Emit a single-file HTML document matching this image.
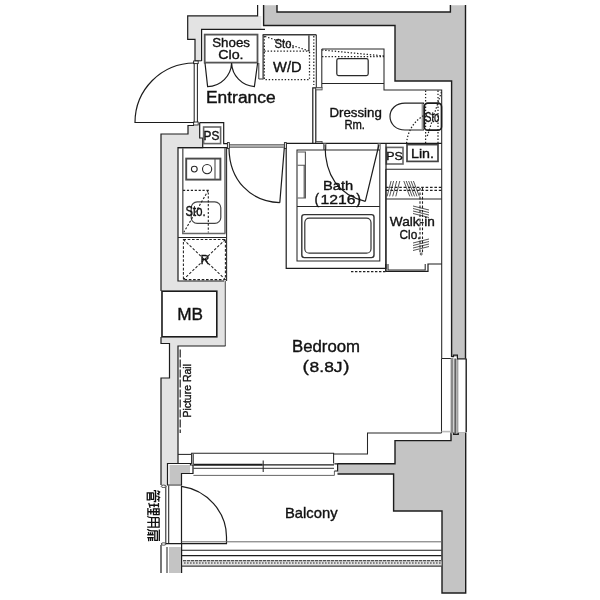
<!DOCTYPE html>
<html><head><meta charset="utf-8">
<style>
html,body{margin:0;padding:0;background:#fff;}
body{width:600px;height:600px;overflow:hidden;position:relative;font-family:"Liberation Sans",sans-serif;}
svg{position:absolute;left:0;top:0;display:block;filter:grayscale(1)}
text{font-family:"Liberation Sans",sans-serif;fill:#111;stroke:#111;stroke-width:0.36px;}
.k{stroke:#1c1c1c;stroke-width:1.2;fill:none}
.k2{stroke:#1c1c1c;stroke-width:1.4;fill:none}
.t{stroke:#262626;stroke-width:1.05;fill:none}
.g{stroke:#666;stroke-width:1.5;fill:none}
.g1{stroke:#555;stroke-width:1.15;fill:none}
.d{stroke:#222;stroke-width:1.25;fill:none;stroke-dasharray:1.4 1.8}
.lw{fill:#e3e3e3;stroke:none}
.dw{fill:#c4c4c4;stroke:none}
</style></head><body>
<svg width="600" height="600" viewBox="0 0 600 600">
<rect width="600" height="600" fill="#fff"/>

<!-- ===== WALL FILLS ===== -->
<!-- top-left light wall -->
<path class="lw" d="M188,16 H261.4 V29 H201.7 V61 H195 V39.5 H188 Z"/>
<!-- left light wall upper (kitchen side) -->
<path class="lw" d="M188,125.5 H199.5 V138 H202.7 V147.7 H178 V281 H225.5 V346 H178 V463 H161 V378 H169.5 V343.5 H161 V134 H188 Z"/>
<!-- MB box white -->
<rect x="162" y="291" width="55" height="46" fill="#fff"/>
<!-- lower-left wall pieces -->
<rect class="lw" x="161" y="463" width="6" height="22"/>
<path class="dw" d="M169.5,465 H190 V473 H181 V484 H169.5 Z"/>
<rect class="dw" x="169" y="547" width="12" height="26"/>
<!-- right dark wall -->
<path class="dw" d="M264,5.3 H277 V12 H450.4 V5.3 H465.3 V359 H458 V357 H452 V81 H395 V25.5 H264 Z"/>
<!-- bottom right dark wall -->
<path class="dw" d="M337.5,463.5 H395 V440.6 H451 V434.2 H458.3 V431.8 H465.6 V593 H442 V511 H393.6 V474 H337.5 Z"/>

<!-- ===== WALL OUTLINES ===== -->
<!-- top-left wall outer -->
<path class="k" d="M257.6,5 V15.9 H187.7 V39.3 H195 V62.5"/>
<!-- top-left wall inner -->
<path class="k" d="M265,29.4 H201.6 V61"/><path class="t" d="M195,60.8 H201.6"/>
<!-- dark wall top outline -->
<path class="k2" d="M263.6,5 V25.5 H395 V81 H451.6 V357"/>
<path class="k2" d="M277,5 V12 H450.4 V5"/>
<path class="k2" d="M465.5,5 V359"/>
<!-- inner finish line, dressing room -->
<path class="t" d="M321.8,49 H384 V90 H441.7 V358.5"/>
<!-- left wall (kitchen) outlines -->
<path class="k" d="M194,125.5 H188 V134 H161 V291"/>
<path class="k" d="M199.7,122.6 V138 H202.7 V147.7 H178 V281 H224"/>
<path class="k" d="M161,337 V343.5 H169.5 V378 H161 V485"/>
<path class="t" style="stroke:#555" d="M225.3,281 V346"/><path class="k" d="M225.5,346 H178 V463.5"/>
<!-- MB box -->
<rect x="162" y="291.2" width="54.8" height="45.6" fill="#fff" stroke="#1c1c1c" stroke-width="1.6"/>
<!-- lower-left L -->
<path class="k" d="M167.5,463.5 H190.5 V465 H193 V473.5 H181.5 V485 H167.5 Z"/>
<path class="t" d="M178,454.4 H191"/>
<!-- bottom right wall outline -->
<path class="k2" d="M337.5,463.7 H395 V440.6 H451 V432.4 H453.6 V434.2 H458.2 V431.8 H465.7 V593 H442 V511 H393.6 V474 H337.5"/>
<!-- bedroom inner finish line lower right -->
<path class="t" d="M441.5,433 H367.5 V454 H334"/>
<!-- bottom-left wall lines -->
<path class="k" d="M161,545 V573"/>
<path class="t" d="M167,547 V573"/>
<path class="k" d="M181.6,544 V573"/>

<!-- ===== ENTRANCE DOOR ===== -->
<path class="t" d="M194.2,62.5 V122.5 M197.4,62.5 V122.5"/>
<rect x="193.6" y="61" width="4.6" height="2.6" fill="#fff" stroke="#222" stroke-width="0.9"/>
<rect x="193.6" y="122" width="4.6" height="3" fill="#fff" stroke="#222" stroke-width="0.9"/>
<path class="k" d="M194.2,63 A59.5,59.5 0 0 0 135,122.5 H194.2"/>

<!-- ===== SHOES CLOSET ===== -->
<rect x="204.7" y="34.6" width="52.8" height="28" fill="#fff" stroke="#555" stroke-width="1.8"/>
<path d="M258.8,63 V79 H263" stroke="#333" stroke-width="1" fill="none"/><path d="M263.2,35 V79.4" stroke="#666" stroke-width="1.8" fill="none"/>
<path class="k" d="M205,63 L207.6,86.6 A24.5,24.5 0 0 0 231.6,63 A24.5,24.5 0 0 0 254.4,86.6 L257.6,63"/>

<!-- ===== W/D + Sto ===== -->
<path d="M262.6,34.8 H316.3" stroke="#3a3a3a" stroke-width="1.4" fill="none"/><path class="t" d="M316.3,34.8 V88"/>
<path d="M308.9,35 V51" stroke="#666" stroke-width="1.8" fill="none"/>
<path class="d" d="M264.3,36 V79.6 H309.5 V51 M264.3,51 H309.5 M313.8,36 V85"/>
<path class="d" d="M265,36.5 L309,51"/>

<!-- ===== DRESSING ROOM ===== -->
<path class="t" d="M321.8,49 V88 M321.8,83.4 H384"/>
<path class="d" d="M322,50 L384,56 M322,56.6 H384"/>
<rect x="336.8" y="58.6" width="31.4" height="17" rx="1.8" fill="#fff" stroke="#2a2a2a" stroke-width="1.25"/>
<!-- sliding wall Entrance/Dressing -->
<path class="k" d="M312.8,143 V87.8 H315.8 V143"/>
<rect x="315.8" y="87.6" width="6.3" height="2.3" fill="#ccc" stroke="#444" stroke-width="0.8"/>
<rect x="315.8" y="141.4" width="6.3" height="2.2" fill="#ccc" stroke="#444" stroke-width="0.8"/>

<!-- ===== TOILET ===== -->
<path d="M423.5,103.2 H405 C396,103.2 390,109 390,116.6 C390,124 396,130 405,130 H423.5 Z" fill="#fff" stroke="#222" stroke-width="1.2"/>
<rect x="421.6" y="104" width="3" height="25.4" fill="#999"/>
<rect x="424.3" y="103.2" width="17.2" height="27" rx="3.5" fill="#fff" stroke="#1a1a1a" stroke-width="1.7"/>
<path class="d" d="M425.6,90.5 V143 M438,90.5 V143 M441.4,92 L427,137"/>
<path class="d" d="M406.6,143.3 A34.5,34.5 0 0 1 425.5,114.6"/>

<!-- ===== PS (right) + Lin ===== -->
<rect x="386.4" y="147.4" width="16.6" height="16.6" fill="#fff" stroke="#666" stroke-width="1.6"/>
<rect x="407" y="144.6" width="31" height="16.8" fill="#fff" stroke="#444" stroke-width="1.7"/>

<!-- ===== hall top line / bath ===== -->
<path class="k" d="M286,143.4 H441.7"/>
<path class="k" d="M286.2,143.4 V268.4 H386 V143.4"/>
<path class="t" d="M297,150 H379.8 V261 H297 Z"/>
<path class="t" d="M297,206.5 H379.8"/>
<!-- shelf -->
<path class="g1" d="M297.6,152 H305.4 V198 H297.6 M297.6,165.2 H305.4"/>
<path class="g1" d="M304.2,165 V198"/>
<!-- tub -->
<rect x="301.8" y="214.6" width="72.2" height="43" rx="2.5" fill="#fff" stroke="#333" stroke-width="1.4"/>
<rect x="304.8" y="218.2" width="66.2" height="35" rx="4.5" fill="#fff" stroke="#333" stroke-width="1.2"/>
<!-- bath door -->
<rect x="323.6" y="143.4" width="2.4" height="6" fill="#ddd" stroke="#444" stroke-width="0.7"/>
<rect x="378" y="143.4" width="2.2" height="6" fill="#ddd" stroke="#444" stroke-width="0.7"/>
<path class="k" d="M379,144.5 L365.3,201.3 M325,144.5 C325,172 335.3,194.1 365.3,201.3"/>

<!-- ===== WALK-IN CLOSET ===== -->
<path class="t" d="M385.8,169.2 H441.7 M385.8,169.2 V271 M385.8,199 H441.7"/>
<path class="d" style="stroke-dasharray:2.6 1.8;stroke-width:1.1" d="M386,187.4 H441.7 M386,190.4 H441.7 M420,188 V253.5 M422.5,188 V253.5"/>
<circle cx="421.2" cy="254" r="1" fill="none" stroke="#222" stroke-width="0.8"/>
<g stroke="#2a2a2a" stroke-width="0.8">
<path d="M391.1,181 L387.1,196.4 M393.6,181 L389.6,196.4 M396.7,181 L392.7,196.4 M399.8,181 L395.8,196.4"/>
<path d="M403.8,181 L409.8,196.4 M406.2,181 L412.2,196.4 M408.6,181 L414.6,196.4 M411.0,181 L417.0,196.4 M413.4,181 L419.4,196.4"/>
<path d="M413,206 L429,210 M413,208.5 L429,212.5 M413,211 L429,215 M413,213.5 L429,217.5"/>
<path d="M413,243 L429,239 M413,245.5 L429,241.5 M413,248 L429,244 M413,250.5 L429,246.5"/>
</g>
<!-- closet door bottom -->
<path class="k" d="M385.8,264 V271.4 H428 V264 H441.7"/>
<path class="t" d="M388,264 V270 H425.2 V264"/>
<path class="d" d="M351,271.6 H386" style="stroke-dasharray:2.4 1.6"/>

<!-- ===== PS (left) ===== -->
<path class="k" d="M199.7,122.6 H223.7 V143.6 H227.6"/>
<rect x="203.6" y="127" width="17" height="16.6" fill="#fff" stroke="#666" stroke-width="1.6"/>

<!-- ===== KITCHEN ===== -->
<path class="k" d="M178,147.7 H228"/>
<path class="g" d="M182.8,148 V233.4 H225.6"/>
<path class="g" d="M225,148 V233"/>
<path class="t" d="M226.6,148 V281"/>
<path class="t" d="M178,237.4 H226"/>
<!-- stove -->
<rect x="186.2" y="158.6" width="34.2" height="21" fill="#fff" stroke="#4a4a4a" stroke-width="1.9"/>
<path class="g1" d="M215,159 V179.4"/>
<circle cx="194.3" cy="169.1" r="2.9" fill="#fff" stroke="#2a2a2a" stroke-width="1.1"/>
<circle cx="207.1" cy="169.1" r="4.6" fill="#fff" stroke="#2a2a2a" stroke-width="1.1"/>
<!-- sink -->
<rect x="191.2" y="201.8" width="29.6" height="21.6" rx="6" fill="#fff" stroke="#444" stroke-width="1.2"/>
<path class="d" style="stroke-dasharray:2.2 1.7;stroke-width:1.1" d="M183,190.4 H208.3 V232.5 M208.3,190.4 L184,232"/>
<!-- R -->
<path class="d" style="stroke-dasharray:2.6 1.7;stroke-width:1.05" d="M183.4,239.5 H225.4 V279.6 H183.4 Z M183.4,239.5 L225.4,279.6 M225.4,239.5 L183.4,279.6"/>

<!-- ===== HALL DOOR ===== -->
<path d="M229,144.9 H284.5 M229,147.1 H284.5" stroke="#222" stroke-width="0.95" fill="none"/>
<rect x="227.4" y="142.6" width="1.9" height="5.8" fill="#fff" stroke="#222" stroke-width="0.9"/>
<rect x="284.4" y="142.6" width="1.9" height="5.8" fill="#fff" stroke="#222" stroke-width="0.9"/>
<path class="k" d="M284.3,148 L279.8,202.6 M229,148.4 C229.5,180 250,201.5 279.8,202.6"/>

<!-- ===== RIGHT WINDOW ===== -->
<rect x="441.5" y="358.5" width="25" height="74" fill="#fff"/>
<path class="t" d="M441.5,358.5 V433 M441.5,358.5 H451.5"/>
<path d="M452,358 V433.5" stroke="#8a8a8a" stroke-width="2.8" fill="none"/>
<path class="k" d="M455.1,358.5 V433.5"/>
<path d="M457.3,359 V433" stroke="#a0a0a0" stroke-width="2.2" fill="none"/>
<path class="k2" d="M466.2,358.5 V432"/>
<path class="k" d="M451.6,356.6 H453.5 V355.2 H457.4 V358.8 H466"/>
<path d="M441.5,431.6 H450.5" stroke="#bbb" stroke-width="1.6" fill="none"/>

<!-- ===== SLIDING DOOR (bedroom/balcony) ===== -->
<path class="t" d="M191.6,464 V453.2 H333.6 V463.5 M193.2,454 V464"/>
<path d="M193.4,464.8 H262.6" stroke="#1c1c1c" stroke-width="1.9" fill="none"/>
<path d="M262.6,464.9 H334" stroke="#1c1c1c" stroke-width="1.2" fill="none"/>
<path d="M193.4,468.3 H334" stroke="#333" stroke-width="1" fill="none"/>
<path d="M193.4,475.4 H334.4 V471" stroke="#555" stroke-width="0.9" fill="none"/>
<path class="t" d="M263.2,460.6 V472"/>
<path class="k" d="M334.4,463.8 H337.6 V471 H334.4"/>

<!-- ===== SERVICE DOOR ===== -->
<path class="t" d="M165.8,485.5 V544 M168.7,485.5 V544"/>
<ellipse cx="163.6" cy="486.3" rx="2.4" ry="1.2" fill="#fff" stroke="#222" stroke-width="0.8"/>
<ellipse cx="163.6" cy="544" rx="2.4" ry="1.2" fill="#fff" stroke="#222" stroke-width="0.8"/>
<path class="k" d="M181.5,485.5 V544.2 M181.5,486.4 C207,490 226.5,512 226.5,537 V543.7 H166"/>


<!-- ===== BALCONY RAIL ===== -->
<path d="M181.5,541.8 H441.5" stroke="#6a6a6a" stroke-width="1" fill="none"/>
<path d="M181.6,550.2 H441.5" stroke="#1c1c1c" stroke-width="1.15" fill="none"/>
<path d="M181.6,555.6 H441.5" stroke="#1c1c1c" stroke-width="1.3" fill="none"/>
<rect x="183" y="560" width="258.5" height="5.6" fill="#e2e2e2"/>
<path d="M183,560.8 H441.5" stroke="#222" stroke-width="1.1" stroke-dasharray="3.2 0.8" fill="none"/>
<path d="M184,563 H441" stroke="#2a2a2a" stroke-width="1" stroke-dasharray="1.6 1.4" fill="none"/>
<path d="M181.6,566.2 H441.5" stroke="#3a3a3a" stroke-width="1.3" fill="none"/>

<!-- ===== PICTURE RAIL ===== -->
<path d="M180.2,349.5 V433" stroke="#222" stroke-width="1.2" stroke-dasharray="8 2" fill="none"/>
<!-- ===== TEXT ===== -->
<text x="212.2" y="47.2" font-size="13" textLength="37.8" lengthAdjust="spacingAndGlyphs" >Shoes</text>
<text x="218.2" y="59.4" font-size="13" textLength="25.4" lengthAdjust="spacingAndGlyphs" >Clo.</text>
<text x="206" y="103.4" font-size="15.6" textLength="69.6" lengthAdjust="spacingAndGlyphs" >Entrance</text>
<text x="274.6" y="48" font-size="13.2" textLength="20.0" lengthAdjust="spacingAndGlyphs" >Sto.</text>
<text x="273" y="72" font-size="14" textLength="28.6" lengthAdjust="spacingAndGlyphs" >W/D</text>
<text x="329.4" y="116.6" font-size="12.8" textLength="52.4" lengthAdjust="spacingAndGlyphs" >Dressing</text>
<text x="344.4" y="129.4" font-size="12.8" textLength="20.6" lengthAdjust="spacingAndGlyphs" >Rm.</text>
<text x="425" y="121.6" font-size="14.5" textLength="14.4" lengthAdjust="spacingAndGlyphs" >Sto</text>
<text x="386.2" y="160" font-size="11.8" textLength="16.6" lengthAdjust="spacingAndGlyphs" >PS</text>
<text x="411" y="158" font-size="13.4" textLength="23" lengthAdjust="spacingAndGlyphs" >Lin.</text>
<text x="203.6" y="139.7" font-size="12.2" textLength="15.8" lengthAdjust="spacingAndGlyphs" >PS</text>
<text x="185.6" y="216.2" font-size="13.8" textLength="20.0" lengthAdjust="spacingAndGlyphs" >Sto.</text>
<text x="200.4" y="264.4" font-size="13" textLength="8.8" lengthAdjust="spacingAndGlyphs" >R</text>
<text x="177.2" y="320" font-size="16" textLength="25.8" lengthAdjust="spacingAndGlyphs" >MB</text>
<text x="323" y="190" font-size="13.5" textLength="30.2" lengthAdjust="spacingAndGlyphs" >Bath</text>
<text x="314.4" y="204.4" font-size="14" textLength="4.6" lengthAdjust="spacingAndGlyphs" >(</text>
<text x="320.6" y="204.4" font-size="13.6" textLength="35.0" lengthAdjust="spacingAndGlyphs" >1216</text>
<text x="356.2" y="204.4" font-size="14" textLength="4.8" lengthAdjust="spacingAndGlyphs" >)</text>
<text x="389.8" y="226" font-size="12.8" textLength="45.0" lengthAdjust="spacingAndGlyphs" >Walk-in</text>
<text x="399.6" y="239" font-size="12.8" textLength="21.0" lengthAdjust="spacingAndGlyphs" >Clo.</text>
<text x="292" y="352.2" font-size="16" textLength="68" lengthAdjust="spacingAndGlyphs" >Bedroom</text>
<text x="302.4" y="371.7" font-size="16" textLength="6.4" lengthAdjust="spacingAndGlyphs" >(</text>
<text x="309.6" y="371.7" font-size="15.5" textLength="33.0" lengthAdjust="spacingAndGlyphs" >8.8J</text>
<text x="343.2" y="371.7" font-size="16" textLength="6.2" lengthAdjust="spacingAndGlyphs" >)</text>
<text x="285" y="518" font-size="14.2" textLength="52.6" lengthAdjust="spacingAndGlyphs" >Balcony</text>
<g transform="translate(191.4,417.6) rotate(-90)"><text x="0" y="0" font-size="10.2" textLength="53.6" lengthAdjust="spacingAndGlyphs">Picture Rail</text></g>
<g transform="translate(160.2,489.6) rotate(90) scale(1.08)" fill="none" stroke="#111" stroke-width="1.2" stroke-linecap="butt">
<!-- kan -->
<g transform="translate(0,0)">
<path d="M2.6,0 L1,2.6 M1.6,1.3 H5.2 M3.4,1.3 L3.9,2.9 M7.6,0 L6,2.6 M6.6,1.3 H11.2 M8.9,1.3 L9.4,2.9"/>
<path d="M6,3 V4.3 M1,6 V4.3 H11 V6"/>
<path d="M3,6.1 H9 V8.3 H3 M3,6.1 V12 H9.5 V9.7 H3"/>
</g>
<!-- ri -->
<g transform="translate(12,0)">
<path d="M0.5,1.6 H4.6 M0.8,5.6 H4.3 M0.3,10.6 L4.9,9.3 M2.5,1.6 V10"/>
<path d="M5.8,1 H11.2 V6.2 H5.8 Z M5.8,3.6 H11.2 M8.5,1 V11.3 M6,8.7 H11 M5,11.4 H12"/>
</g>
<!-- yo -->
<g transform="translate(24,0)">
<path d="M2,1 V8 C2,10 1.6,11.2 0.8,12 M2,1 H10.8 V12 M2,4.5 H10.8 M2,7.9 H10.8 M6.4,1 V12"/>
</g>
<!-- tobira -->
<g transform="translate(36,0)">
<path d="M1,0.8 H11.6 M2.2,2.6 H11 V5 H2.2 M2.2,2.6 V8 C2.2,10 1.6,11.2 0.6,12"/>
<path d="M5.8,6 V12 M8.4,6 V12 M3.5,7.1 H5.8 M3.5,8.9 H5.8 M3.2,10.9 L5.8,10.4 M8.4,7.1 H11.5 M8.4,8.9 H11.5 M8.4,10.7 H11.8"/>
</g>
</g>
</svg>
</body></html>
